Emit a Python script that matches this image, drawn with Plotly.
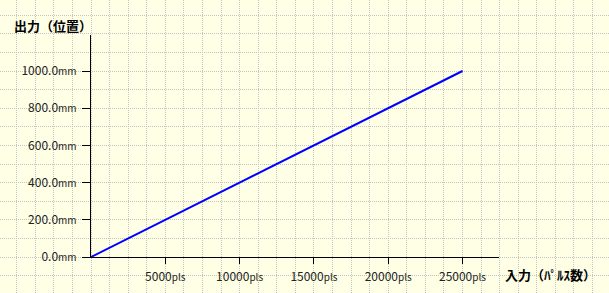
import plotly.graph_objects as go

# Data
pulses = [0, 25000]
position_mm = [0, 1000]
x_tickvals = [5000, 10000, 15000, 20000, 25000]
y_tickvals = [0, 200, 400, 600, 800, 1000]
x_title = "入力（ﾊﾟﾙｽ数）"
y_title = "出力（位置）"

W, H = 609, 293
x0_px, y0_px = 91, 257          # pixel position of origin
px_per_pls = 74.3 / 5000
px_per_mm = 186 / 1000
x_end_px, y_end_px = 499, 35    # axis line ends

font_main = "MS Gothic, Noto Sans CJK JP, sans-serif"

x_ticktext = [f"{v}<span style='font-size:10px'>pls</span>" for v in x_tickvals]
y_ticktext = [f"{v:.1f}<span style='font-size:10px'>mm</span>" for v in y_tickvals]

fig = go.Figure()
# invisible trace for grid subplot
fig.add_trace(go.Scatter(x=[0], y=[0], xaxis="x", yaxis="y", mode="markers",
                         marker=dict(opacity=0), showlegend=False, hoverinfo="skip"))
fig.add_trace(go.Scatter(x=pulses, y=position_mm, xaxis="x2", yaxis="y2", mode="lines",
                         line=dict(color="#0000FF", width=2), showlegend=False))

grid_style = dict(showgrid=True, gridcolor="#C4C4C4", griddash="1px,1px", gridwidth=1,
                  showticklabels=False, ticks="", zeroline=False, fixedrange=True,
                  automargin=False)

fig.update_layout(
    width=W, height=H,
    margin=dict(l=0, r=0, t=0, b=0),
    paper_bgcolor="#FFFFE6",
    plot_bgcolor="rgba(0,0,0,0)",
    font=dict(family=font_main, size=12, color="#222222"),
    xaxis=dict(domain=[0, 1], range=[-x0_px / px_per_pls, (W - x0_px) / px_per_pls],
               tick0=0, dtick=1250, **grid_style),
    yaxis=dict(domain=[0, 1], range=[-(H - y0_px) / px_per_mm, y0_px / px_per_mm],
               tick0=0, dtick=100, **grid_style),
    xaxis2=dict(domain=[x0_px / W, x_end_px / W], anchor="y2",
                range=[0, (x_end_px - x0_px) / px_per_pls],
                showgrid=False, zeroline=False, showline=True, linecolor="#000000", linewidth=1,
                ticks="outside", ticklen=6, tickcolor="#000000", tickwidth=1,
                ticklabelstandoff=3,
                tickvals=x_tickvals, ticktext=x_ticktext, automargin=False,
                tickfont=dict(family=font_main, size=12, color="#222222")),
    yaxis2=dict(domain=[(H - y0_px) / H, (H - y_end_px) / H], anchor="x2",
                range=[0, (y0_px - y_end_px) / px_per_mm],
                showgrid=False, zeroline=False, showline=True, linecolor="#000000", linewidth=1,
                ticks="outside", ticklen=8, tickcolor="#000000", tickwidth=1,
                ticklabelstandoff=3,
                tickvals=y_tickvals, ticktext=y_ticktext, automargin=False,
                tickfont=dict(family=font_main, size=12, color="#222222")),
    annotations=[
        dict(text=f"<b>{y_title}</b>", xref="paper", yref="paper",
             x=12 / W, y=1 - 25 / H, xanchor="left", yanchor="middle", showarrow=False,
             font=dict(family=font_main, size=13, color="#000000")),
        dict(text=f"<b>{x_title}</b>", xref="paper", yref="paper",
             x=503 / W, y=1 - 274 / H, xanchor="left", yanchor="middle", showarrow=False,
             font=dict(family=font_main, size=13, color="#000000")),
    ],
)

fig.write_html("out.html")
